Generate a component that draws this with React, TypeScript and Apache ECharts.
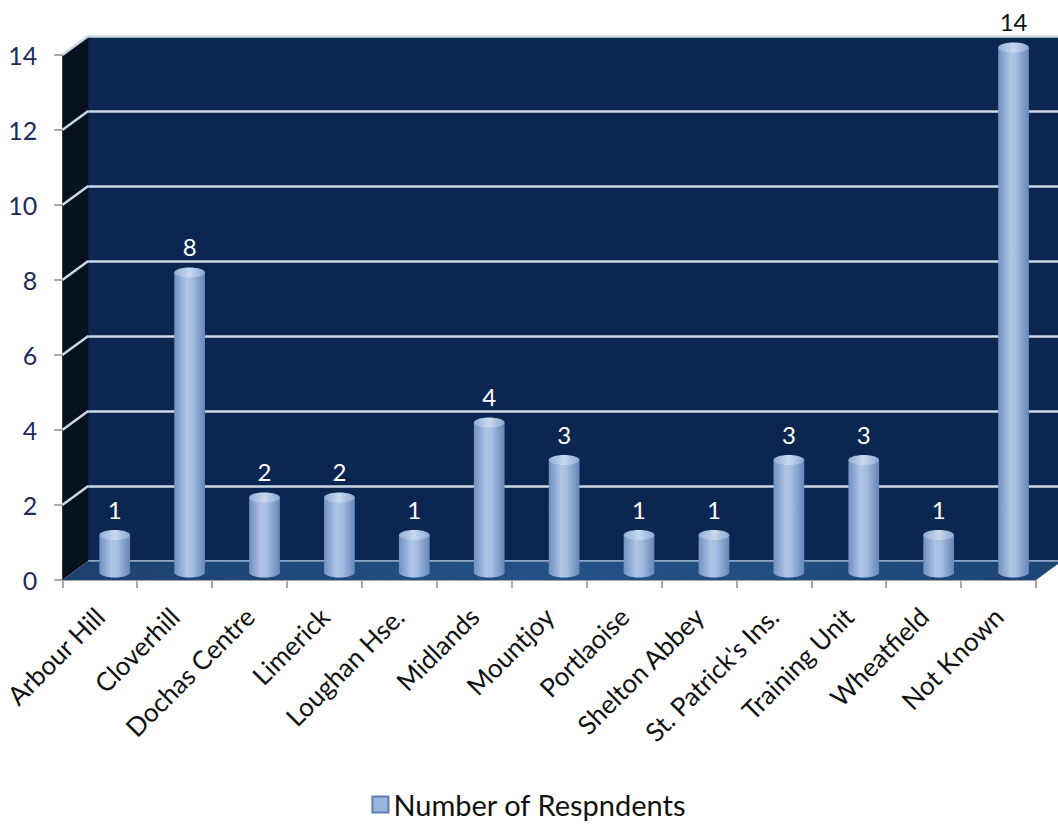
import React, { useEffect, useRef } from "react";
import * as echarts from "echarts";

const categories = [
  "Arbour Hill", "Cloverhill", "Dochas Centre", "Limerick", "Loughan Hse.",
  "Midlands", "Mountjoy", "Portlaoise", "Shelton Abbey", "St. Patrick's Ins.",
  "Training Unit", "Wheatfield", "Not Known",
];
const respondents = [1, 8, 2, 2, 1, 4, 3, 1, 1, 3, 3, 1, 14];
const yMin = 0;
const yMax = 14;
const yStep = 2;
const gridTicks = [2, 4, 6, 8, 10, 12, 14];
const seriesName = "Number of Respndents";

const FONT = "Lato";
const DX = 26;
const DY = -19;
const GRID_COLOR = "#cfd7e4";

export default function App() {
  const ref = useRef<HTMLDivElement>(null);
  useEffect(() => {
    if (!ref.current) return;
    const chart = echarts.init(ref.current, null, { renderer: "svg" });

    const cylGrad = new echarts.graphic.LinearGradient(0, 0, 1, 0, [
      { offset: 0, color: "#7090c0" },
      { offset: 0.4, color: "#afc5e6" },
      { offset: 0.6, color: "#a3bce0" },
      { offset: 1, color: "#6586b8" },
    ]);

    const option: any = {
      animation: false,
      textStyle: { fontFamily: FONT },
      legend: {
        data: [seriesName],
        bottom: 2,
        left: "center",
        icon: "rect",
        itemWidth: 16,
        itemHeight: 16,
        itemGap: 10,
        textStyle: { fontSize: 29, color: "#111", fontFamily: FONT },
      },
      grid: [
        { left: 61, top: 55, width: 975, height: 525, containLabel: false },
        {
          left: 61 + DX, top: 55 + DY, width: 975, height: 525,
          show: true, backgroundColor: "#0b2751", borderWidth: 0,
        },
      ],
      xAxis: [
        {
          type: "category", gridIndex: 0, data: categories,
          axisLine: { show: true, lineStyle: { color: "#a8a8a8", width: 2 } },
          axisTick: { show: true, length: 8, lineStyle: { color: "#a8a8a8", width: 2 } },
          axisLabel: {
            rotate: 45, interval: 0, margin: 32,
            fontSize: 26, color: "#111", fontFamily: FONT,
          },
          splitLine: { show: false },
        },
        {
          type: "category", gridIndex: 1, data: categories, show: false,
        },
      ],
      yAxis: [
        {
          type: "value", gridIndex: 0, min: yMin, max: yMax, interval: yStep,
          axisLine: { show: true, lineStyle: { color: "#a8a8a8", width: 2 } },
          axisTick: { show: true, length: 8, lineStyle: { color: "#a8a8a8", width: 2 } },
          axisLabel: { fontSize: 25, color: "#1d2b5a", margin: 25, fontFamily: FONT },
          splitLine: { show: false },
        },
        {
          type: "value", gridIndex: 1, min: yMin, max: yMax, interval: yStep,
          axisLine: { show: false }, axisTick: { show: false },
          axisLabel: { show: false },
          splitLine: { show: true, lineStyle: { color: GRID_COLOR, width: 2.5 } },
        },
      ],
      series: [
        {
          type: "custom",
          name: "walls",
          xAxisIndex: 0, yAxisIndex: 0,
          z: 1,
          silent: true,
          data: [[0, 0]],
          renderItem: (params: any, api: any) => {
            const cs = params.coordSys;
            const x0 = cs.x, y0 = cs.y, w = cs.width, h = cs.height;
            return {
              type: "group",
              children: [
                {
                  type: "polygon",
                  shape: { points: [[x0, y0], [x0 + DX, y0 + DY], [x0 + DX, y0 + h + DY], [x0, y0 + h]] },
                  style: { fill: "#08121f" },
                },
                {
                  type: "polygon",
                  shape: { points: [[x0, y0 + h], [x0 + DX, y0 + h + DY], [x0 + w + DX, y0 + h + DY], [x0 + w, y0 + h]] },
                  style: {
                    fill: new echarts.graphic.LinearGradient(0, 0, 1, 0, [
                      { offset: 0, color: "#1b416f" },
                      { offset: 0.5, color: "#245287" },
                      { offset: 1, color: "#1c4574" },
                    ]),
                  },
                },
                {
                  type: "line",
                  shape: { x1: x0 + DX, y1: y0 + h + DY, x2: x0 + w + DX, y2: y0 + h + DY },
                  style: { stroke: "#8fa6c6", lineWidth: 1.5 },
                },
              ],
            };
          },
        },
        {
          type: "custom",
          name: "sidelines",
          xAxisIndex: 0, yAxisIndex: 0,
          z: 2,
          silent: true,
          data: gridTicks.map((t) => [0, t]),
          renderItem: (params: any, api: any) => {
            const cs = params.coordSys;
            const y = api.coord([0, api.value(1)])[1];
            return {
              type: "line",
              shape: { x1: cs.x, y1: y, x2: cs.x + DX, y2: y + DY },
              style: { stroke: GRID_COLOR, lineWidth: 2.5 },
            };
          },
        },
        {
          type: "custom",
          name: seriesName,
          xAxisIndex: 0, yAxisIndex: 0,
          z: 5,
          itemStyle: { color: "#9cb6de", borderColor: "#5b7fb4", borderWidth: 1 },
          data: respondents.map((v, i) => [i, v]),
          renderItem: (params: any, api: any) => {
            const cs = params.coordSys;
            const idx = api.value(0);
            const v = api.value(1);
            const base = api.coord([idx, 0]);
            const top = api.coord([idx, v]);
            const bw = api.size([1, 0])[0] * 0.41;
            const cx = base[0] + DX / 2 + 2;
            const by = base[1] + DY / 2 + 2;
            const ty = top[1] + DY / 2 + 2;
            const rx = bw / 2;
            const ry = 5;
            const labelY = ty - 26;
            const wallTop = cs.y + DY;
            return {
              type: "group",
              children: [
                {
                  type: "ellipse",
                  shape: { cx, cy: by, rx, ry },
                  style: { fill: cylGrad },
                },
                {
                  type: "rect",
                  shape: { x: cx - rx, y: ty, width: bw, height: by - ty },
                  style: { fill: cylGrad },
                },
                {
                  type: "ellipse",
                  shape: { cx, cy: ty, rx, ry },
                  style: {
                    fill: new echarts.graphic.LinearGradient(0, 0, 1, 0, [
                      { offset: 0, color: "#93aed6" },
                      { offset: 0.5, color: "#c9d8ee" },
                      { offset: 1, color: "#8ca8d1" },
                    ]),
                  },
                },
                {
                  type: "text",
                  style: {
                    x: cx,
                    y: labelY,
                    text: String(v),
                    textAlign: "center",
                    textVerticalAlign: "middle",
                    fontSize: 24,
                    fontFamily: FONT,
                    fill: labelY < wallTop ? "#111111" : "#ffffff",
                  },
                },
              ],
            };
          },
        },
      ],
    };

    chart.setOption(option);
    return () => chart.dispose();
  }, []);

  return (
    <div
      ref={ref}
      style={{ position: "fixed", left: 0, top: 0, width: 1058, height: 826, background: "#fff" }}
    />
  );
}
